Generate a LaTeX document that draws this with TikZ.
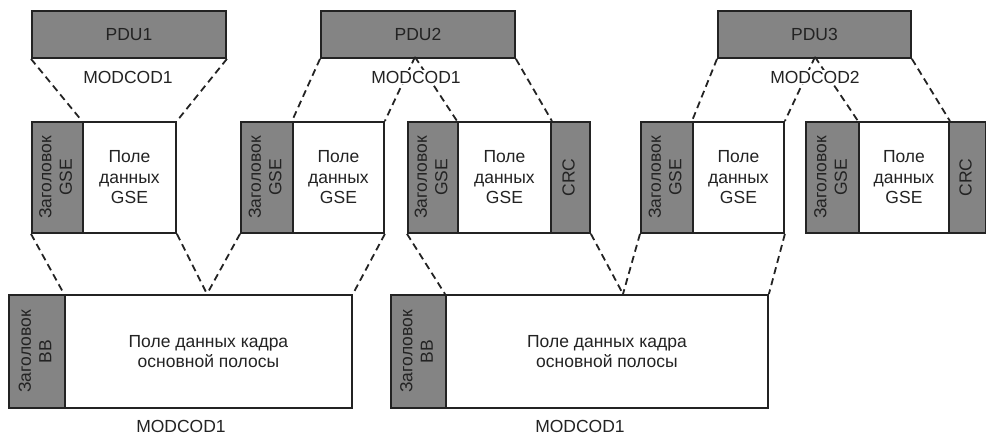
\documentclass[tikz,border=0pt]{standalone}
\usepackage{fontspec}
\setmainfont{Liberation Sans}
\definecolor{boxgray}{RGB}{132,132,132}
\definecolor{ink}{RGB}{35,35,35}
\newcommand{\rottext}[1]{\rotatebox{90}{\begin{tabular}{@{}c@{}}#1\end{tabular}}}
\begin{document}
\begin{tikzpicture}[x=1pt,y=-1pt,
  every node/.style={font=\fontsize{17.5}{20.5}\selectfont, text=ink},
  boxbase/.style={draw=ink, line width=1.9pt, anchor=north west, inner sep=0pt, align=center},
  graybox/.style={boxbase, fill=boxgray},
  whitebox/.style={boxbase, fill=white},
  conn/.style={line width=1.8pt, dash pattern=on 7pt off 4.5pt, draw=ink},
  lbl/.style={inner sep=1pt, fill=white}
]
\useasboundingbox (0,0) rectangle (986,436);
% PDUs
\node[graybox, minimum width=194pt, minimum height=47pt] (pdu1) at (31,10) {PDU1};
\node[graybox, minimum width=194pt, minimum height=47pt] (pdu2) at (320,10) {PDU2};
\node[graybox, minimum width=193pt, minimum height=47pt] (pdu3) at (717,10) {PDU3};
% GSE row
\node[whitebox, minimum width=93pt, minimum height=111pt] (d1) at (82,121) {Поле\\данных\\GSE};
\node[graybox, minimum width=51pt, minimum height=111pt] (h1) at (31,121) {\rottext{Заголовок\\GSE}};
\node[whitebox, minimum width=91pt, minimum height=111pt] (d2) at (292,121) {Поле\\данных\\GSE};
\node[graybox, minimum width=52pt, minimum height=111pt] (h2) at (240,121) {\rottext{Заголовок\\GSE}};
\node[whitebox, minimum width=93pt, minimum height=111pt] (d3) at (457,121) {Поле\\данных\\GSE};
\node[graybox, minimum width=50pt, minimum height=111pt] (h3) at (407,121) {\rottext{Заголовок\\GSE}};
\node[graybox, minimum width=39pt, minimum height=111pt] (c3) at (550,121) {\rottext{CRC}};
\node[whitebox, minimum width=91pt, minimum height=111pt] (d4) at (692,121) {Поле\\данных\\GSE};
\node[graybox, minimum width=52pt, minimum height=111pt] (h4) at (640,121) {\rottext{Заголовок\\GSE}};
\node[whitebox, minimum width=90pt, minimum height=111pt] (d5) at (858,121) {Поле\\данных\\GSE};
\node[graybox, minimum width=53pt, minimum height=111pt] (h5) at (805,121) {\rottext{Заголовок\\GSE}};
\node[graybox, minimum width=37pt, minimum height=111pt] (c5) at (948,121) {\rottext{CRC}};
% BB frames
\node[whitebox, minimum width=287pt, minimum height=113pt] (bd1) at (64,294) {Поле данных кадра\\основной полосы};
\node[graybox, minimum width=56pt, minimum height=113pt] (bh1) at (8,294) {\rottext{Заголовок\\BB}};
\node[whitebox, minimum width=322pt, minimum height=113pt] (bd2) at (445,294) {Поле данных кадра\\основной полосы};
\node[graybox, minimum width=55pt, minimum height=113pt] (bh2) at (390,294) {\rottext{Заголовок\\BB}};
% split points
\coordinate (s2) at (415,57);
\coordinate (s3) at (815,57);
\coordinate (j1) at (207,294);
\coordinate (j2) at (623,294);
% upper connectors
\draw[conn] (pdu1.south west) -- (d1.north west);
\draw[conn] (pdu1.south east) -- (d1.north east);
\draw[conn] (pdu2.south west) -- (d2.north west);
\draw[conn] (s2) -- (d2.north east);
\draw[conn] (s2) -- (d3.north west);
\draw[conn] (pdu2.south east) -- (d3.north east);
\draw[conn] (pdu3.south west) -- (d4.north west);
\draw[conn] (s3) -- (d4.north east);
\draw[conn] (s3) -- (d5.north west);
\draw[conn] (pdu3.south east) -- (d5.north east);
% lower connectors
\draw[conn] (h1.south west) -- (bd1.north west);
\draw[conn] (d1.south east) -- (j1);
\draw[conn] (h2.south west) -- (j1);
\draw[conn] (d2.south east) -- (bd1.north east);
\draw[conn] (h3.south west) -- (bd2.north west);
\draw[conn] (c3.south east) -- (j2);
\draw[conn] (h4.south west) -- (j2);
\draw[conn] (d4.south east) -- (bd2.north east);
% labels
\node[lbl] (m1) at (128,77) {MODCOD1};
\node[lbl] (m2) at (416,77) {MODCOD1};
\node[lbl] (m3) at (815,77) {MODCOD2};
\node[lbl] (m4) at (181,426) {MODCOD1};
\node[lbl] (m5) at (580,426) {MODCOD1};
\end{tikzpicture}
\end{document}
